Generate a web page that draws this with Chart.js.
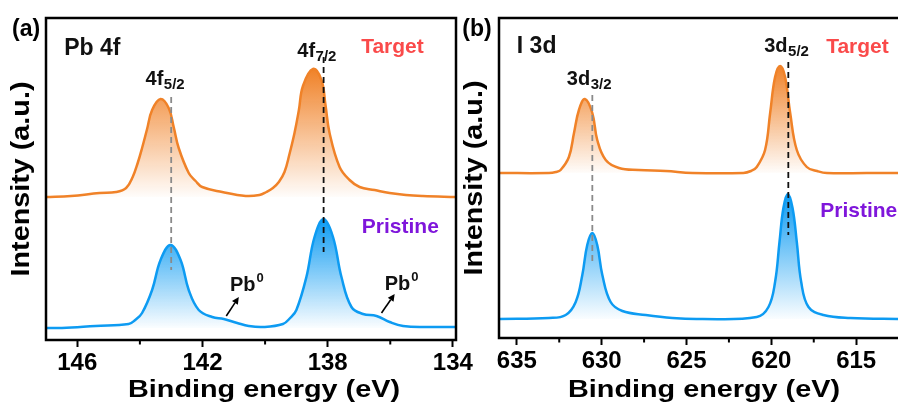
<!DOCTYPE html>
<html>
<head>
<meta charset="utf-8">
<script src="https://cdn.jsdelivr.net/npm/chart.js@4.4.1/dist/chart.umd.min.js"></script>
<style>
  html, body { margin: 0; padding: 0; background: #fff; }
  body { width: 898px; height: 403px; overflow: hidden; position: relative; }
  canvas { position: absolute; top: 0; }
  #cA { left: 0; }
  #cB { left: 460px; }
</style>
</head>
<body>
<canvas id="cA" width="480" height="403"></canvas>
<canvas id="cB" width="446" height="403"></canvas>
<script>
// ---- data (binding energy in eV, intensity in a.u.) ----
// (a) Pb 4f
const targetEnergyA = [147.00, 146.20, 145.29, 144.76, 144.44, 144.23, 144.07, 143.93, 143.77, 143.61, 143.34, 143.08, 142.92, 142.76, 142.44, 142.22, 142.01, 141.37, 140.62, 140.18, 139.96, 139.75, 139.56, 139.38, 139.22, 139.06, 138.92, 138.79, 138.47, 138.20, 138.07, 137.94, 137.62, 137.30, 136.98, 136.50, 136.02, 135.50, 134.96, 133.90];
const targetIntA    = [143, 144, 147, 148, 152, 163, 177, 192, 211, 230, 241, 232, 213, 192, 167, 159, 153, 148, 144, 145, 148, 152, 158, 168, 186, 207, 230, 254, 271, 260, 235, 207, 173, 160, 153, 150, 147, 145, 144, 143];
const pristineEnergyA = [147.00, 146.49, 145.42, 144.36, 144.15, 143.93, 143.61, 143.34, 143.02, 142.70, 142.44, 142.12, 141.69, 141.32, 140.89, 140.52, 140.07, 139.43, 139.20, 139.00, 138.68, 138.42, 138.13, 137.83, 137.56, 137.24, 136.87, 136.44, 136.02, 135.59, 134.84, 133.90];
const pristineIntA    = [12, 12, 14, 16, 20, 27, 50, 80, 95, 80, 50, 30, 23, 21, 17, 14, 13, 16, 22, 30, 63, 103, 121, 103, 63, 33, 26, 24, 18, 14, 13, 13];
const peakLinesA = [143.0, 138.13];          // 4f5/2, 4f7/2
const ticksA = [146, 142, 138, 134];
const minorA = [144, 140, 136];

// (b) I 3d
const targetEnergyB = [636.05, 633.11, 632.70, 632.42, 631.93, 631.63, 631.34, 630.99, 630.55, 630.26, 629.76, 628.98, 627.80, 626.22, 624.65, 621.65, 621.20, 620.86, 620.37, 620.07, 619.78, 619.48, 619.19, 618.89, 618.50, 617.91, 617.30, 616.73, 614.37, 612.30];
const targetIntB    = [165, 165, 166, 168, 181, 205, 228, 239, 225, 198, 178, 170, 168, 167, 165, 165, 167, 171, 188, 225, 261, 272, 261, 225, 188, 171, 167, 165, 165, 165];
const pristineEnergyB = [636.05, 633.11, 632.12, 631.53, 631.14, 630.85, 630.55, 630.26, 629.96, 629.47, 628.78, 627.40, 625.83, 624.26, 620.86, 620.17, 619.78, 619.52, 619.29, 619.03, 618.75, 618.50, 618.24, 617.81, 616.93, 615.35, 612.30];
const pristineIntB    = [19, 20, 23, 36, 63, 93, 105, 93, 63, 36, 27, 23, 20, 19, 21, 31, 56, 96, 130, 144, 130, 96, 56, 31, 23, 20, 19];
const peakLinesB = [630.55, 619.0];          // 3d3/2, 3d5/2
const ticksB = [635, 630, 625, 620, 615];
const minorB = [632.5, 627.5, 622.5, 617.5];

const FONT = 'Arial, "Liberation Sans", sans-serif';
const ORANGE = '240,130,40';
const BLUE = '13,155,242';
const RED = '#fa4a4a';
const PURPLE = '#7f16db';

const zip = (xs, ys) => xs.map((v, i) => ({ x: v, y: ys[i] }));

// vertical gradient from the series' highest point down to its baseline
function gradFill(rgb, top, base) {
  return (c) => {
    const { chart } = c;
    if (!chart.chartArea) return 'rgba(' + rgb + ',0.3)';
    const y = chart.scales.y;
    const g = chart.ctx.createLinearGradient(0, y.getPixelForValue(top), 0, y.getPixelForValue(base));
    g.addColorStop(0, 'rgba(' + rgb + ',1)');
    g.addColorStop(1, 'rgba(' + rgb + ',0.02)');
    return g;
  };
}

function spectrum(xs, ys, rgb) {
  return {
    data: zip(xs, ys),
    borderColor: 'rgb(' + rgb + ')',
    borderWidth: 2.5,
    pointRadius: 0,
    tension: 0.4,
    fill: { value: ys[0] },
    backgroundColor: gradFill(rgb, Math.max(...ys), ys[0]),
    order: 2
  };
}

function dashLine(e, y0, y1, color) {
  return {
    data: [{ x: e, y: y0 }, { x: e, y: y1 }],
    borderColor: color,
    borderWidth: 1.8,
    borderDash: [6, 4],
    pointRadius: 0,
    fill: false,
    order: 1
  };
}

function stretched(ctx, text, cx, cy, size, width, rotate) {
  ctx.save();
  ctx.translate(cx, cy);
  if (rotate) ctx.rotate(-Math.PI / 2);
  ctx.font = 'bold ' + size + 'px ' + FONT;
  const w = ctx.measureText(text).width;
  ctx.scale(width / w, 1);
  ctx.textAlign = 'center';
  ctx.textBaseline = rotate ? 'middle' : 'alphabetic';
  ctx.fillStyle = '#000';
  ctx.fillText(text, 0, 0);
  ctx.restore();
}

const decor = {
  id: 'decor',
  afterDraw(chart, args, o) {
    const { ctx, chartArea: a, scales: { x, y } } = chart;
    ctx.save();
    // frame
    ctx.strokeStyle = '#000';
    ctx.lineWidth = 2.5;
    ctx.strokeRect(a.left, a.top, a.right - a.left, a.bottom - a.top);
    // minor ticks
    ctx.lineWidth = 2;
    o.minor.forEach(v => {
      const px = x.getPixelForValue(v);
      ctx.beginPath();
      ctx.moveTo(px, a.bottom);
      ctx.lineTo(px, a.bottom + 4.5);
      ctx.stroke();
    });
    // labels inside the plot
    ctx.textAlign = 'left';
    ctx.textBaseline = 'alphabetic';
    o.notes.forEach(n => {
      const px = x.getPixelForValue(n.x), py = y.getPixelForValue(n.y);
      ctx.fillStyle = n.color || '#111';
      ctx.font = 'bold ' + n.size + 'px ' + FONT;
      ctx.fillText(n.t, px, py);
      const w = ctx.measureText(n.t).width;
      if (n.sub) { ctx.font = 'bold 15px ' + FONT; ctx.fillText(n.sub, px + w + 0.5, py + 3.5); }
      if (n.sup) { ctx.font = 'bold 13px ' + FONT; ctx.fillText(n.sup, px + w + 1, py - 9); }
    });
    // arrows
    ctx.strokeStyle = '#000';
    ctx.fillStyle = '#000';
    ctx.lineWidth = 1.6;
    o.arrows.forEach(ar => {
      const x0 = x.getPixelForValue(ar.from[0]), y0 = y.getPixelForValue(ar.from[1]);
      const x1 = x.getPixelForValue(ar.to[0]), y1 = y.getPixelForValue(ar.to[1]);
      const ang = Math.atan2(y1 - y0, x1 - x0);
      const hl = 7, hw = 3.5;
      const bx = x1 - hl * Math.cos(ang), by = y1 - hl * Math.sin(ang);
      ctx.beginPath(); ctx.moveTo(x0, y0); ctx.lineTo(bx, by); ctx.stroke();
      ctx.beginPath();
      ctx.moveTo(x1, y1);
      ctx.lineTo(bx + hw * Math.sin(ang), by - hw * Math.cos(ang));
      ctx.lineTo(bx - hw * Math.sin(ang), by + hw * Math.cos(ang));
      ctx.closePath(); ctx.fill();
    });
    // panel letter
    ctx.fillStyle = '#000';
    ctx.font = 'bold 23px ' + FONT;
    ctx.fillText(o.letter, o.letterX, 35.5);
    // axis titles
    stretched(ctx, 'Binding energy (eV)', o.xTitleX, 397, 24, 272, false);
    stretched(ctx, 'Intensity (a.u.)', o.yTitleX, (a.top + a.bottom) / 2, 25, 195, true);
    ctx.restore();
  }
};

function makeChart(id, cfg) {
  return new Chart(document.getElementById(id), {
    type: 'line',
    data: { datasets: cfg.datasets },
    options: {
      responsive: false,
      animation: false,
      layout: { padding: { left: cfg.left, top: 18, right: cfg.right, bottom: 0 } },
      plugins: {
        legend: { display: false },
        tooltip: { enabled: false },
        decor: cfg.decor
      },
      scales: {
        x: {
          type: 'linear',
          reverse: true,
          min: cfg.xmin,
          max: cfg.xmax,
          afterBuildTicks: s => { s.ticks = cfg.ticks.map(v => ({ value: v })); },
          afterFit: s => { s.height = cfg.xh; s.paddingLeft = 0; s.paddingRight = 0; },
          border: { display: false },
          grid: { drawOnChartArea: false, drawTicks: true, tickLength: 7, tickWidth: 2, tickColor: '#000' },
          ticks: { autoSkip: false, maxRotation: 0, padding: 2, color: '#000', font: { family: FONT, size: 24, weight: 'bold' } }
        },
        y: { display: false, min: 0, max: cfg.ymax }
      }
    },
    plugins: [decor]
  });
}

makeChart('cA', {
  left: 46, right: 24, xh: 63, ymax: 322, xmin: 133.9, xmax: 147, ticks: ticksA,
  datasets: [
    spectrum(targetEnergyA, targetIntA, ORANGE),
    spectrum(pristineEnergyA, pristineIntA, BLUE),
    dashLine(peakLinesA[0], 243, 70, '#8a8a8a'),
    dashLine(peakLinesA[1], 283, 88, '#111')
  ],
  decor: {
    minor: minorA,
    letter: '(a)', letterX: 12, xTitleX: 264, yTitleX: 22.5,
    notes: [
      { t: 'Pb 4f', x: 146.42, y: 285, size: 23 },
      { t: 'Target', x: 136.93, y: 287, size: 21, color: RED },
      { t: 'Pristine', x: 136.91, y: 107, size: 21, color: PURPLE },
      { t: '4f', sub: '5/2', x: 143.82, y: 255, size: 20 },
      { t: '4f', sub: '7/2', x: 138.97, y: 283, size: 20 },
      { t: 'Pb', sup: '0', x: 141.12, y: 49, size: 20 },
      { t: 'Pb', sup: '0', x: 136.18, y: 50, size: 20 }
    ],
    arrows: [
      { from: [141.24, 24], to: [140.84, 43] },
      { from: [136.28, 27], to: [135.86, 46] }
    ]
  }
});

makeChart('cB', {
  left: 39, right: 4, xh: 65, ymax: 320, xmin: 612.3, xmax: 636.05, ticks: ticksB,
  datasets: [
    spectrum(targetEnergyB, targetIntB, ORANGE),
    spectrum(pristineEnergyB, pristineIntB, BLUE),
    dashLine(peakLinesB[0], 243, 75, '#8a8a8a'),
    dashLine(peakLinesB[1], 276, 103, '#111')
  ],
  decor: {
    minor: minorB,
    letter: '(b)', letterX: 2.3, xTitleX: 244, yTitleX: 15,
    notes: [
      { t: 'I 3d', x: 635.0, y: 285, size: 23 },
      { t: 'Target', x: 616.77, y: 285, size: 21, color: RED },
      { t: 'Pristine', x: 617.12, y: 121, size: 21, color: PURPLE },
      { t: '3d', sub: '3/2', x: 632.05, y: 253, size: 20 },
      { t: '3d', sub: '5/2', x: 620.42, y: 286, size: 20 }
    ],
    arrows: []
  }
});
</script>
</body>
</html>
